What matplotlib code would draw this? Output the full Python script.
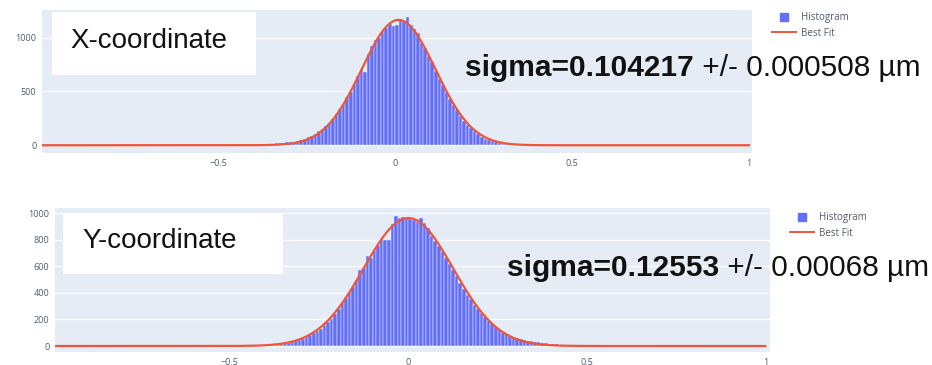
import numpy as np
import matplotlib
matplotlib.use('Agg')
import matplotlib.pyplot as plt
from matplotlib.patches import Rectangle
from matplotlib.lines import Line2D

# Histogram bins (width 0.01) and counts
bin_width = 0.01
x_bin_start = -0.40
x_counts = [8, 9, 10, 11, 13, 14, 17, 19, 22, 26,
            30, 34, 41, 52, 60, 75, 88, 104, 128, 150,
            176, 210, 247, 290, 335, 380, 445, 498, 570, 640,
            700, 680, 845, 920, 975, 1000, 1050, 1090, 1125, 1105,
            1120, 1175, 1150, 1190, 1120, 1080, 1040, 950, 905, 825,
            770, 690, 620, 560, 495, 430, 375, 325, 270, 230,
            190, 160, 128, 100, 80, 62, 48, 36, 27, 20,
            15, 11, 8, 6, 4, 3, 2, 1, 1, 0]

y_bin_start = -0.40
y_counts = [3, 5, 7, 9, 12, 17, 22, 28, 35, 44,
            55, 66, 80, 96, 112, 130, 155, 178, 205, 240,
            280, 320, 360, 400, 445, 500, 570, 590, 680, 660,
            715, 760, 800, 795, 800, 920, 975, 960, 970, 965,
            955, 950, 935, 960, 925, 890, 830, 790, 750, 705,
            665, 615, 570, 525, 475, 430, 385, 350, 310, 275,
            250, 215, 185, 165, 140, 120, 100, 90, 78, 65,
            58, 50, 45, 40, 36, 32, 28, 24, 20, 17,
            15, 12, 10, 8, 6, 5, 4, 3, 2, 2]

# Gaussian fit parameters (amplitude, mean, sigma)
x_fit = (1165, 0.01, 0.104217)
y_fit = (962, 0.0, 0.12553)

x_sigma_bold = 'sigma=0.104217'
x_sigma_rest = ' +/- 0.000508 µm'
y_sigma_bold = 'sigma=0.12553'
y_sigma_rest = ' +/- 0.00068 µm'

x_ticks = [-0.5, 0, 0.5, 1]
x_ticklabels = ['\u22120.5', '0', '0.5', '1']
top_yticks = [0, 500, 1000]
bot_yticks = [0, 200, 400, 600, 800, 1000]

BAR = '#636EFA'
LINE = '#EF553B'
BG = '#E5ECF6'
TICK = '#505a6a'

W, H = 932, 365
fig = plt.figure(figsize=(W / 100, H / 100), dpi=100)


def fx(px):
    return px / W


def fy(py):
    return 1 - py / H


def panel(rect, start, counts, fit, xlim, ylim, yticks):
    ax = fig.add_axes(rect)
    ax.set_facecolor(BG)
    centers = start + bin_width * (np.arange(len(counts)) + 0.5)
    ax.bar(centers, counts, width=bin_width, color=BAR,
           edgecolor=BG, linewidth=0.35, label='Histogram', zorder=2)
    amp, mu, sig = fit
    xs = np.linspace(-1, 1, 600)
    ax.plot(xs, amp * np.exp(-0.5 * ((xs - mu) / sig) ** 2), color=LINE,
            lw=1.6, label='Best Fit', zorder=3)
    ax.set_xlim(*xlim)
    ax.set_ylim(*ylim)
    ax.set_xticks(x_ticks, x_ticklabels)
    ax.set_yticks(yticks)
    ax.grid(axis='y', color='white', lw=0.9, zorder=0)
    ax.set_axisbelow(True)
    for s in ax.spines.values():
        s.set_visible(False)
    ax.tick_params(length=0, pad=4, labelsize=6.5, labelcolor=TICK)
    for lab in ax.get_xticklabels() + ax.get_yticklabels():
        lab.set_family('Open Sans')
    return ax


ax1 = panel([fx(42), fy(153), fx(710), (153 - 10) / H], x_bin_start, x_counts,
            x_fit, (-0.997, 1.008), (-72, 1257), top_yticks)
ax2 = panel([fx(55), fy(352), fx(715), (352 - 208) / H], y_bin_start, y_counts,
            y_fit, (-0.990, 1.013), (-45, 1038), bot_yticks)

# legends outside the plot area
for ax, lx, ly in [(ax1, 772, 12), (ax2, 790, 212)]:
    handles = [Line2D([], [], marker='s', ls='', color=BAR, markersize=5.5),
               Line2D([], [], color=LINE, lw=1.4)]
    ax.legend(handles, ['Histogram', 'Best Fit'], loc='upper left',
              bbox_to_anchor=(fx(lx), fy(ly)), bbox_transform=fig.transFigure,
              frameon=False, fontsize=7, handlelength=2.5, handletextpad=0.5,
              labelspacing=0.5, borderpad=0, borderaxespad=0,
              labelcolor=TICK, prop={'family': 'Open Sans', 'size': 7})

# white label boxes
for (x0, y0, x1, y1), txt, tx, ty in [((52, 12, 256, 75), 'X-coordinate', 70, 48),
                                      ((63, 213, 283, 274), 'Y-coordinate', 82, 248)]:
    fig.add_artist(Rectangle((fx(x0), fy(y1)), fx(x1 - x0), (y1 - y0) / H,
                             transform=fig.transFigure, facecolor='white',
                             edgecolor='none', zorder=2))
    fig.text(fx(tx), fy(ty), txt, fontsize=20, family='Liberation Sans',
             va='baseline', ha='left', color='#111111', zorder=4)

# sigma annotations: bold part followed by regular part
for bold, rest, tx, ty in [(x_sigma_bold, x_sigma_rest, 465, 76),
                           (y_sigma_bold, y_sigma_rest, 507, 276)]:
    t1 = fig.text(fx(tx), fy(ty), bold, fontsize=21.5, family='Liberation Sans',
                  weight='bold', va='baseline', ha='left', color='#111111', zorder=4)
    fig.canvas.draw()
    bb = t1.get_window_extent()
    fig.text(bb.x1 / W, fy(ty), rest, fontsize=21.5, family='Liberation Sans',
             va='baseline', ha='left', color='#111111', zorder=4)

fig.savefig('out.png', dpi=100)
